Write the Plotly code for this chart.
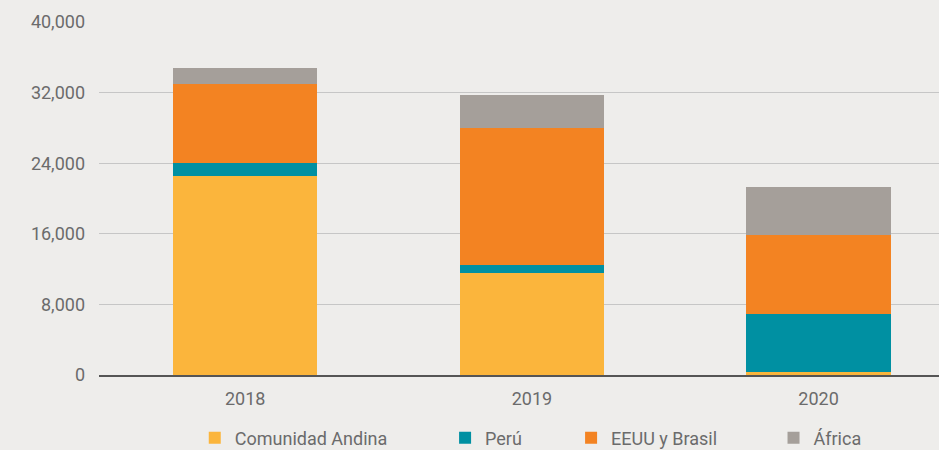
import plotly.graph_objects as go

years = ["2018", "2019", "2020"]
series_names = ["Comunidad Andina", "Perú", "EEUU y Brasil", "África"]
andina = [22570, 11550, 340]
peru = [1430, 910, 6570]
eeuu_brasil = [8990, 15540, 8940]
africa = [1780, 3700, 5440]
y_ticks = [0, 8000, 16000, 24000, 32000, 40000]

colors = ["#FBB53C", "#0090A2", "#F38322", "#A59F9A"]
series_values = [andina, peru, eeuu_brasil, africa]
legend_ids = ["legend", "legend2", "legend3", "legend4"]
legend_x = [0.114, 0.412, 0.562, 0.803]

font_family = "Roboto, Lato, sans-serif"
text_color = "#6b6b6b"

fig = go.Figure()
for name, vals, col, lid in zip(series_names, series_values, colors, legend_ids):
    fig.add_trace(go.Bar(
        x=years,
        y=vals,
        name=name,
        marker_color=col,
        marker_line_width=0,
        width=0.503,
        legend=lid,
    ))

# one legend per item so the uneven spacing of the original can be kept
layout_legends = {}
for lid, lx in zip(legend_ids, legend_x):
    layout_legends[lid] = dict(
        x=lx, y=12 / 450, yref="container",
        xanchor="left", yanchor="middle",
        bgcolor="rgba(0,0,0,0)",
        font=dict(family=font_family, size=18, color=text_color),
        itemwidth=30,
    )

fig.update_layout(
    barmode="stack",
    width=939,
    height=450,
    margin=dict(l=99, r=0, t=22, b=75),
    paper_bgcolor="#EEEDEB",
    plot_bgcolor="#EEEDEB",
    font=dict(family=font_family, size=18, color=text_color),
    showlegend=True,
    xaxis=dict(
        type="category",
        range=[-0.51, 2.42],
        showgrid=False,
        showline=True,
        linecolor="#555555",
        linewidth=1.5,
        ticks="",
        ticklabelstandoff=7,
    ),
    yaxis=dict(
        range=[0, 40000],
        tickvals=y_ticks,
        tickformat=",",
        showgrid=True,
        gridcolor="#C6C6C6",
        gridwidth=1.2,
        zeroline=False,
        ticks="",
        ticklabelstandoff=13,
    ),
    **layout_legends,
)

fig.write_html(
    "out.html",
    config={"displayModeBar": False},
    post_script="document.body.style.margin='0';",
)
